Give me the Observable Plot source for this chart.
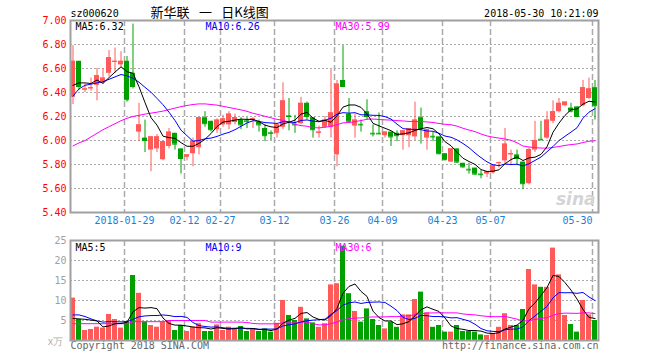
<!DOCTYPE html>
<html><head><meta charset="utf-8">
<script src="https://cdn.jsdelivr.net/npm/d3@7"></script>
<script src="https://cdn.jsdelivr.net/npm/@observablehq/plot@0.6"></script>
<style>
body{margin:0;background:#fff;}
#chart{position:relative;width:660px;height:360px;overflow:hidden;background:#fff;}
#chart svg{position:absolute;left:0;display:block;}
</style></head><body><div id="chart"></div>
<script>
// ---- data ----
const open = [6.36,6.66,6.42,6.43,6.46,6.49,6.56,6.65,6.63,6.66, 6.56,6.07,6.02,5.92,5.93,5.84,5.95,6.06,5.93,5.86, 5.89,5.94,6.19,6.16,6.09,6.13,6.13,6.15,6.17,6.165, 6.17,6.15,6.10,6.065,6.06,6.11,6.205,6.135,6.14,6.31, 6.19,6.06,6.11,6.11,5.88,6.50,6.22,6.12,6.135,6.24, 6.06,6.06,6.04,6.07,6.06,6.04,6.04,6.03,6.19,6.02, 6.035,6.03,5.89,5.82,5.93,5.81,5.76,5.77,5.72,5.72, 5.73,5.81,5.83,5.88,5.88,5.82,5.64,5.92,6.01,6.02, 6.16,6.24,6.29,6.27,6.28,6.29,6.35,6.44];
const high = [6.79,6.66,6.47,6.52,6.60,6.60,6.75,6.77,6.74,6.70, 6.97,6.31,6.17,6.03,6.05,5.99,6.10,6.06,5.93,5.88, 6.02,6.19,6.24,6.16,6.18,6.21,6.24,6.22,6.19,6.19, 6.19,6.17,6.13,6.08,6.13,6.48,6.35,6.21,6.36,6.32, 6.19,6.12,6.20,6.59,6.50,6.79,6.35,6.22,6.17,6.34, 6.13,6.23,6.07,6.07,6.08,6.08,6.10,6.32,6.27,6.09, 6.07,6.03,5.89,5.93,5.93,5.81,5.81,5.77,5.75,5.74, 5.80,5.82,6.10,5.92,5.92,5.82,5.94,6.16,6.16,6.24, 6.33,6.35,6.32,6.31,6.28,6.50,6.52,6.50];
const low = [6.30,6.42,6.40,6.41,6.33,6.47,6.53,6.56,6.61,6.32, 6.43,5.99,5.90,5.74,5.90,5.83,5.93,5.92,5.72,5.83, 5.78,5.88,6.11,6.07,6.06,6.11,6.09,6.13,6.09,6.10, 6.10,6.07,5.99,6.00,6.02,6.09,6.08,6.06,6.13,6.17, 6.02,6.02,6.10,6.02,5.78,6.44,6.16,6.02,6.07,6.17, 6.03,6.05,6.02,5.95,5.99,5.92,5.94,6.00,5.97,5.92, 5.99,5.88,5.83,5.82,5.81,5.77,5.72,5.71,5.68,5.69, 5.72,5.77,5.80,5.79,5.79,5.59,5.63,5.90,6.00,6.01, 6.14,6.23,6.28,6.23,6.19,6.28,6.34,6.17];
const close = [6.66,6.45,6.43,6.44,6.54,6.52,6.69,6.66,6.66,6.34, 6.45,6.13,6.00,6.03,6.03,5.99,6.07,5.97,5.85,5.88, 5.99,6.19,6.14,6.09,6.17,6.18,6.22,6.19,6.13,6.16, 6.18,6.13,6.04,6.06,6.13,6.33,6.20,6.13,6.31,6.20, 6.09,6.07,6.17,6.23,6.47,6.45,6.16,6.17,6.13,6.20, 6.055,6.055,6.07,6.03,6.04,6.08,6.10,6.17,6.10,6.09, 6.03,5.89,5.84,5.93,5.82,5.78,5.755,5.72,5.715,5.74, 5.79,5.815,5.97,5.89,5.85,5.64,5.925,6.00,6.005,6.17, 6.24,6.31,6.32,6.245,6.20,6.44,6.43,6.29];
const ma5 = [6.46,6.48,6.48,6.475,6.504,6.476,6.524,6.57,6.614,6.574, 6.56,6.448,6.316,6.19,6.128,6.036,6.024,6.018,5.982,5.952, 5.952,5.976,6.01,6.058,6.116,6.154,6.16,6.17,6.178,6.176, 6.176,6.158,6.128,6.114,6.108,6.138,6.152,6.17,6.22,6.234, 6.186,6.16,6.168,6.152,6.206,6.278,6.296,6.296,6.276,6.222, 6.143,6.122,6.102,6.082,6.05,6.055,6.064,6.084,6.098,6.108, 6.098,6.056,5.99,5.956,5.902,5.852,5.825,5.801,5.758,5.742, 5.744,5.756,5.806,5.841,5.863,5.833,5.855,5.861,5.884,5.948, 6.068,6.145,6.209,6.257,6.263,6.303,6.327,6.321];
const ma10 = [6.37,6.43,6.46,6.47,6.48,6.49,6.51,6.53,6.55,6.539, 6.518,6.486,6.443,6.402,6.351,6.298,6.236,6.167,6.086,6.04, 5.994,6.00,6.014,6.02,6.034,6.053,6.068,6.09,6.118,6.146, 6.165,6.159,6.149,6.146,6.142,6.157,6.155,6.149,6.167,6.171, 6.162,6.156,6.169,6.186,6.22,6.232,6.228,6.232,6.214,6.214, 6.21,6.209,6.199,6.179,6.136,6.099,6.093,6.093,6.09,6.079, 6.077,6.06,6.037,6.027,6.005,5.975,5.94,5.896,5.857,5.822, 5.798,5.79,5.804,5.80,5.802,5.788,5.806,5.834,5.862,5.906, 5.95,6.00,6.035,6.07,6.106,6.186,6.236,6.265];
const ma30 = [5.955,5.98,6.00,6.03,6.06,6.09,6.115,6.14,6.165,6.185, 6.20,6.21,6.22,6.228,6.236,6.245,6.258,6.27,6.282,6.292, 6.30,6.305,6.305,6.30,6.295,6.285,6.275,6.265,6.255,6.243, 6.227,6.215,6.202,6.189,6.176,6.169,6.153,6.135,6.124,6.119, 6.107,6.105,6.111,6.117,6.132,6.147,6.15,6.157,6.166,6.177, 6.179,6.175,6.172,6.17,6.166,6.163,6.159,6.158,6.157,6.155, 6.15,6.142,6.135,6.131,6.12,6.102,6.087,6.074,6.054,6.038, 6.028,6.02,6.013,6.002,5.981,5.954,5.946,5.941,5.937,5.936, 5.942,5.95,5.959,5.966,5.971,5.983,5.994,5.998];
const volume = [10.6,5.25,2.5,2.75,3.33,3.1,6.5,5.25,3.1,4.75, 16.25,11.8,4.6,3.75,3.33,4.6,5.0,2.5,3.75,2.25, 3.33,4.2,2.25,2.25,3.9,2.5,3.33,2.9,3.5,2.25, 2.9,2.25,2.9,2.1,4.3,10.0,6.25,5.0,8.3,5.4, 4.4,3.3,4.2,13.9,14.2,23.6,11.7,7.25,4.6,7.9, 5.25,3.75,2.9,4.6,3.3,6.4,6.4,10.25,12.1,6.9, 3.3,3.75,2.1,2.1,3.75,2.25,2.25,2.1,1.4,1.25, 1.7,3.3,6.7,3.75,3.75,7.75,17.75,13.9,13.3,13.3, 23.1,16.4,6.25,4.0,2.1,10.0,6.4,5.0];
const vma5 = [5.5,5.4,5.3,5.1,4.89,3.39,3.64,4.19,4.26,4.54, 7.17,8.23,8.10,8.23,7.95,5.62,4.26,3.84,3.84,3.62, 3.37,3.21,3.16,2.86,3.19,3.02,2.85,2.98,3.23,2.90, 2.98,2.76,2.76,2.48,2.89,4.31,5.11,5.53,6.77,6.99, 5.87,5.28,5.12,6.24,8.0,11.84,13.52,14.13,12.27,11.01, 7.34,5.75,4.88,4.88,3.96,4.19,4.72,6.19,7.69,8.41, 7.79,7.26,5.63,3.63,3.0,2.79,2.49,2.49,2.35,1.85, 1.74,1.95,2.87,3.34,3.84,5.05,7.94,9.38,11.29,13.2, 16.27,16.0,14.47,12.61,10.37,7.75,5.75,5.5];
const vma10 = [6.4,6.4,6.0,5.4,4.9,4.6,4.7,4.7,4.65,4.71, 5.28,5.93,6.14,6.24,6.24,6.39,6.24,5.97,6.03,5.78, 4.49,3.73,3.50,3.35,3.40,3.19,3.03,3.07,3.04,3.04, 3.0,2.80,2.87,2.85,2.89,3.64,3.94,4.15,4.63,4.94, 5.09,5.20,5.33,6.51,7.50,8.86,9.40,9.63,9.26,9.51, 9.59,9.64,9.51,8.58,7.49,5.77,5.24,5.54,6.29,6.19, 5.99,5.99,5.91,5.66,5.71,5.29,4.88,4.06,2.99,2.43, 2.27,2.22,2.68,2.85,2.85,3.40,4.95,6.13,7.32,8.52, 10.66,11.97,11.93,11.95,11.79,12.01,10.88,9.99];
const vma30 = [4.2,4.2,4.2,4.2,4.2,4.2,4.2,4.2,4.2,4.2, 4.7,4.7,4.7,4.7,4.7,4.7,5.0,5.0,5.0,5.0, 5.0,5.0,5.0,4.6,4.6,4.6,4.6,4.6,4.6,4.51, 4.26,4.16,4.17,4.15,4.18,4.41,4.40,4.39,4.57,4.59, 4.19,3.91,3.90,4.23,4.60,5.23,5.45,5.61,5.64,5.83, 5.89,5.88,5.90,5.98,5.96,6.09,6.19,6.44,6.72,6.88, 6.89,6.94,6.91,6.91,6.90,6.64,6.50,6.41,6.18,6.04, 5.95,5.95,6.03,5.69,5.35,4.82,5.02,5.24,5.53,5.71, 6.31,6.73,6.84,6.82,6.78,6.90,6.90,6.72];
const dateIdx = [9,19,25,34,44,52,62,70,87];
const dateLabels = ["2018-01-29","02-12","02-27","03-12","03-26","04-09","04-23","05-07","05-30"];
const priceTicks = [5.40,5.60,5.80,6.00,6.20,6.40,6.60,6.80,7.00];
const volTicks = [5,10,15,20,25];
const priceMA = ["MA5:6.32","MA10:6.26","MA30:5.99"];
const volMA = ["MA5:5","MA10:9","MA30:6"];
const code = "sz000620";
const title = "新华联\u2002\u00a0一\u2002\u00a0日K线图";
const stamp = "2018-05-30 10:21:09";

// ---- styles ----
const UP = "#ff5a5a", DOWN = "#00a000", BLUE = "#1a7fd6";
const MONO = "DejaVu Sans Mono";
const GRID = "#aaa", FRAME = "#a0a0a0";
const HW = 0.4167;
const XD = [-HW, 87 + 0.5833];

const candles = open.map((o, i) => ({i, o, h: high[i], l: low[i], c: close[i], v: volume[i], col: close[i] >= o ? UP : DOWN}));
const idxOf = (a) => a.map((v, i) => ({i, v}));

const gridRules = () => Plot.ruleX(dateIdx, {x: d => d - HW, stroke: GRID, strokeWidth: 1.5, strokeDasharray: "6,3"});

const topPlot = Plot.plot({
  width: 660, height: 232,
  marginLeft: 70, marginRight: 62, marginTop: 20, marginBottom: 20,
  x: {domain: XD, axis: null},
  y: {domain: [5.4, 7.0], axis: null},
  style: {fontFamily: MONO, fontSize: "10px", background: "transparent", overflow: "visible"},
  marks: [
    Plot.ruleY(priceTicks.slice(1, -1), {stroke: GRID, strokeDasharray: "2,2"}),
    gridRules(),
    Plot.text(["sina"], {frameAnchor: "bottom-right", lineAnchor: "bottom", dx: -3, dy: -8, textAnchor: "end", fill: "#d4d4d4", fontSize: 17, fontStyle: "italic", fontWeight: "bold", fontFamily: "DejaVu Sans"}),
    Plot.ruleX(candles, {x: "i", y1: "l", y2: "h", stroke: "col"}),
    Plot.rect(candles, {x1: d => d.i - HW, x2: d => d.i + HW, y1: "o", y2: "c", fill: "col"}),
    Plot.ruleY(candles, {y: "c", x1: d => d.i - HW, x2: d => d.i + HW, stroke: "col"}),
    Plot.line(idxOf(ma30), {x: "i", y: "v", stroke: "#f0f", strokeWidth: 1}),
    Plot.line(idxOf(ma10), {x: "i", y: "v", stroke: "#00f", strokeWidth: 1}),
    Plot.line(idxOf(ma5), {x: "i", y: "v", stroke: "#000", strokeWidth: 1}),
    Plot.text(priceTicks, {y: d => d, text: d => d.toFixed(2), frameAnchor: "left", lineAnchor: "middle", textAnchor: "end", dx: -4, fill: "#f00", fontSize: 10, fontFamily: MONO}),
    Plot.text(dateIdx.slice(0, -1), {x: d => d - HW, text: (d, i) => dateLabels[i], frameAnchor: "bottom", lineAnchor: "top", dy: 4, fill: BLUE, fontSize: 10, fontFamily: MONO}),
    Plot.text(dateIdx.slice(-1), {x: d => d - HW, text: () => dateLabels[dateLabels.length - 1], frameAnchor: "bottom", lineAnchor: "top", textAnchor: "end", dy: 4, fill: BLUE, fontSize: 10, fontFamily: MONO}),
    Plot.text([priceMA[0]], {frameAnchor: "top-left", lineAnchor: "top", dx: 5, dy: 2, fill: "#000", fontSize: 10, fontFamily: MONO}),
    Plot.text([priceMA[1]], {frameAnchor: "top-left", lineAnchor: "top", dx: 135, dy: 2, fill: "#00f", fontSize: 10, fontFamily: MONO}),
    Plot.text([priceMA[2]], {frameAnchor: "top-left", lineAnchor: "top", dx: 265, dy: 2, fill: "#f0f", fontSize: 10, fontFamily: MONO}),
    Plot.text([code], {frameAnchor: "top-left", lineAnchor: "middle", dy: -6.5, fill: "#000", fontSize: 10, fontFamily: MONO}),
    Plot.text([title], {frameAnchor: "top-left", lineAnchor: "middle", dx: 80, dy: -7.5, fill: "#000", fontSize: 13, fontFamily: "Noto Sans CJK SC"}),
    Plot.text([stamp], {frameAnchor: "top-right", lineAnchor: "middle", textAnchor: "end", dy: -6.5, fill: "#000", fontSize: 10, fontFamily: MONO}),
    Plot.frame({stroke: FRAME, strokeWidth: 2})
  ]
});
topPlot.style.top = "0px";

const bottomPlot = Plot.plot({
  width: 660, height: 128,
  marginLeft: 70, marginRight: 62, marginTop: 8, marginBottom: 20,
  x: {domain: XD, axis: null},
  y: {domain: [0, 25], axis: null},
  style: {fontFamily: MONO, fontSize: "10px", background: "transparent", overflow: "visible"},
  marks: [
    Plot.ruleY(volTicks.slice(0, -1), {stroke: GRID, strokeDasharray: "2,2"}),
    gridRules(),
    Plot.rect(candles, {x1: d => d.i - HW, x2: d => d.i + HW, y1: 0, y2: "v", fill: "col"}),
    Plot.line(idxOf(vma30), {x: "i", y: "v", stroke: "#f0f", strokeWidth: 1}),
    Plot.line(idxOf(vma10), {x: "i", y: "v", stroke: "#00f", strokeWidth: 1}),
    Plot.line(idxOf(vma5), {x: "i", y: "v", stroke: "#000", strokeWidth: 1}),
    Plot.text(volTicks, {y: d => d, text: d => String(d), frameAnchor: "left", lineAnchor: "middle", textAnchor: "end", dx: -4, fill: "#a0a0a0", fontSize: 10, fontFamily: MONO}),
    Plot.text(["x万"], {frameAnchor: "bottom-left", lineAnchor: "middle", textAnchor: "end", dx: -7, dy: 1, fill: "#b0b0b0", fontSize: 10, fontFamily: MONO}),
    Plot.text([volMA[0]], {frameAnchor: "top-left", lineAnchor: "top", dx: 5, dy: 3, fill: "#000", fontSize: 10, fontFamily: MONO}),
    Plot.text([volMA[1]], {frameAnchor: "top-left", lineAnchor: "top", dx: 135, dy: 3, fill: "#00f", fontSize: 10, fontFamily: MONO}),
    Plot.text([volMA[2]], {frameAnchor: "top-left", lineAnchor: "top", dx: 265, dy: 3, fill: "#f0f", fontSize: 10, fontFamily: MONO}),
    Plot.text(["Copyright 2018 SINA.COM"], {frameAnchor: "bottom-left", lineAnchor: "middle", textAnchor: "start", dy: 5.3, fill: "#666", fontSize: 10, fontFamily: MONO}),
    Plot.text(["http://finance.sina.com.cn"], {frameAnchor: "bottom-right", lineAnchor: "middle", textAnchor: "end", dy: 5.3, fill: "#666", fontSize: 10, fontFamily: MONO}),
    Plot.frame({stroke: FRAME, strokeWidth: 2})
  ]
});
bottomPlot.style.top = "232px";

const chart = document.getElementById("chart");
chart.appendChild(topPlot);
chart.appendChild(bottomPlot);
</script></body></html>
